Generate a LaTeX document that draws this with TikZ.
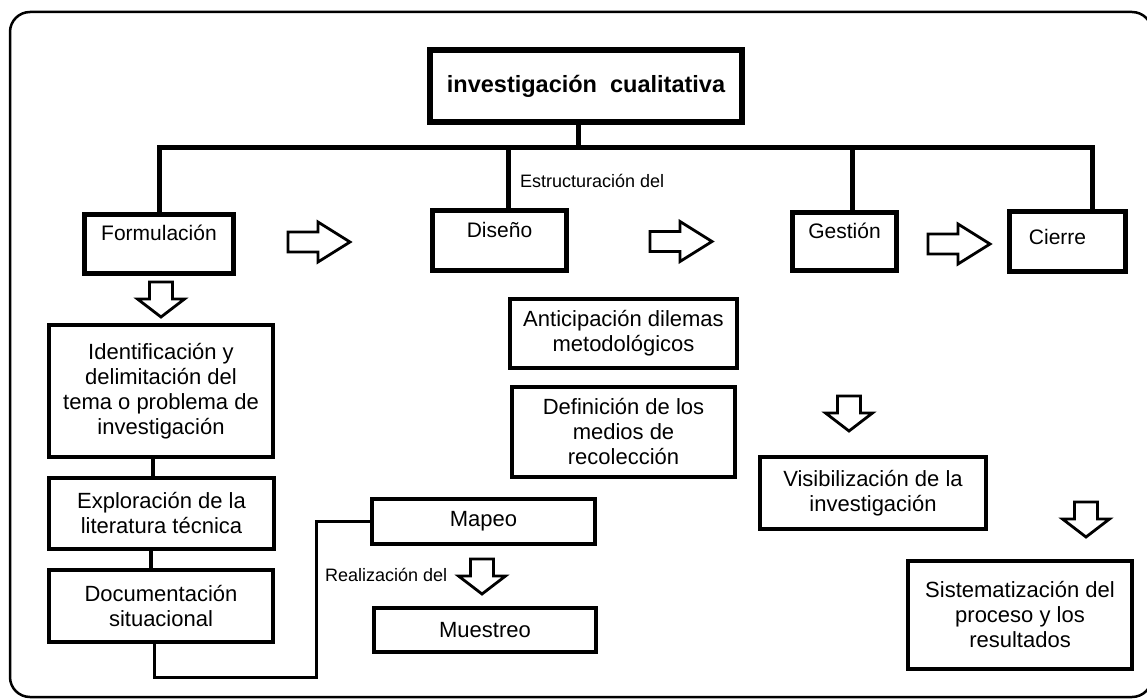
\documentclass[tikz,border=0pt]{standalone}
\usepackage{fontspec}
\setmainfont{Liberation Sans}
\usepackage{tikz}

\tikzset{
  titlebox/.style={draw, line width=6pt, inner sep=0pt, font=\bfseries\fontsize{23.5}{28}\selectfont},
  topbox/.style={draw, line width=5.5pt, inner sep=0pt, font=\fontsize{21}{25}\selectfont},
  box/.style={draw, line width=4pt, inner sep=0pt, align=center, font=\fontsize{22}{25}\selectfont},
  note/.style={inner sep=0pt, font=\fontsize{18}{20}\selectfont},
  bus/.style={line width=5pt},
  link/.style={line width=3.5pt},
  hollow/.style={line width=2.8pt, fill=white},
  rarrow/.pic={\draw[hollow] (0,-10) -- (30,-10) -- (30,-20) -- (62,0) -- (30,20) -- (30,10) -- (0,10) -- cycle;},
  darrow/.pic={\draw[hollow] (-11.5,0) -- (11.5,0) -- (11.5,17) -- (23.5,17) -- (0,35) -- (-23.5,17) -- (-11.5,17) -- cycle;}
}

\begin{document}
\begin{tikzpicture}[x=1pt,y=-1pt]
                        \useasboundingbox (0,0) rectangle (1147,700);
                        \draw[line width=2.5pt, rounded corners=20pt] (10,12) rectangle (1152,697);

                        \node[titlebox, minimum width=312, minimum height=72] (title) at (586,86) {investigación\ \ cualitativa};

                        \node[topbox, minimum width=149, text height=26.5, text depth=32.5] (formul) at (159,244) {Formulación};
                        \node[topbox, minimum width=134, text height=27.5, text depth=32.5] (diseno) at (499.5,240.5) {Diseño};
                        \node[topbox, minimum width=104, text height=26.5, text depth=31.5] (gestion) at (844.5,241.5) {Gestión};
                        \node[topbox, minimum width=116, text height=33.5, text depth=26.5] (cierre) at (1067.5,241.5) {Cierre\hspace*{20pt}};

                        \node[box, minimum width=224, minimum height=132] (ident) at (161,391) {Identificación y\\delimitación del\\tema o problema de\\investigación};
                        \node[box, minimum width=225, minimum height=71] (explor) at (161.5,513.5) {Exploración de la\\literatura técnica};
                        \node[box, minimum width=224, minimum height=72] (docu) at (161,606) {Documentación\\situacional};
                        \node[box, minimum width=223, minimum height=45] (mapeo) at (483.5,521.5) {Mapeo};
                        \node[box, minimum width=222, minimum height=44] (muest) at (485,630) {Muestreo};
                        \node[box, minimum width=227, minimum height=69] (antic) at (623.5,333.5) {Anticipación dilemas\\metodológicos};
                        \node[box, minimum width=223, minimum height=90] (defin) at (623.5,432) {Definición de los\\medios de\\recolección};
                        \node[box, minimum width=226, minimum height=72] (visib) at (873,493) {Visibilización de la\\investigación};
                        \node[box, minimum width=224, minimum height=108] (siste) at (1020,615) {Sistematización del\\proceso y los\\resultados};

                        \node[note, anchor=base west] (estr) at (520,188) {Estructuración del};
                        \node[note, anchor=base west] (real) at (325,581) {Realización del};

                        \coordinate (bus) at (578,148);
                        \coordinate (busl) at (160,148);
                        \coordinate (busr) at (1092,148);
                        \draw[bus] (title.south -| bus) -- (bus);
                        \draw[bus] (formul.north) -- (formul.north |- busl) -- (busr) -- (busr |- cierre.north);
                        \path (diseno.north) ++(8.5,0) coordinate (dtop);
                        \path (gestion.north) ++(7.5,0) coordinate (gtop);
                        \draw[bus] (dtop) -- (dtop |- busl);
                        \draw[bus] (gtop) -- (gtop |- busl);

                        \path (ident.south) ++(-8,0) coordinate (c1);
                        \path (explor.south) ++(-10.5,0) coordinate (c2);
                        \path (docu.south) ++(-7,0) coordinate (c3);
                        \coordinate (turn) at (316,677);
                        \draw[link] (c1) -- (c1 |- explor.north);
                        \draw[link] (c2) -- (c2 |- docu.north);
                        \draw[line width=3pt] (c3) |- (turn) |- (mapeo.west);

                        \pic at (288,242) {rarrow};
                        \pic at (650,241.5) {rarrow};
                        \pic at (928,244) {rarrow};
                        \pic at (161,282) {darrow};
                        \pic at (482,559) {darrow};
                        \pic at (849,396) {darrow};
                        \pic at (1086,502) {darrow};
                  \end{tikzpicture}
\end{document}
